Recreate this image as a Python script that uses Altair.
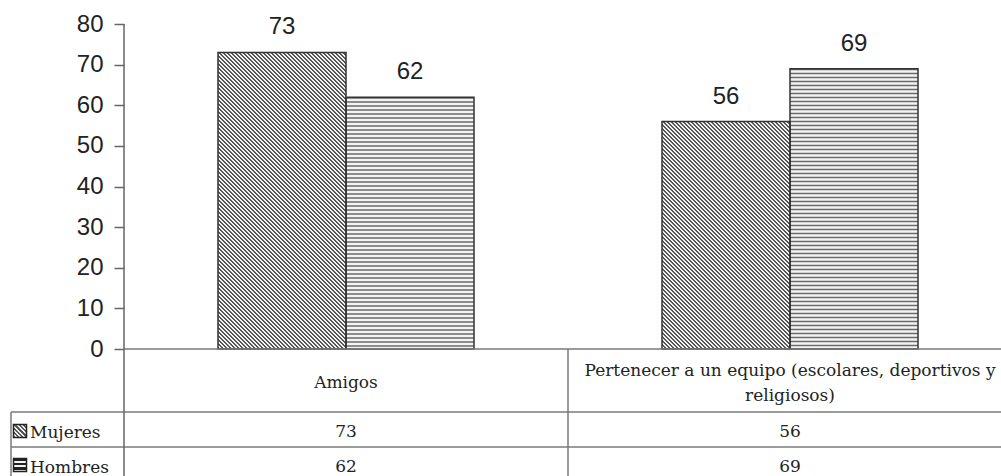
import textwrap

import altair as alt
import pandas as pd

# ---- data -------------------------------------------------------------
CATEGORIES = ["Amigos", "Pertenecer a un equipo (escolares, deportivos y religiosos)"]
SERIES = ["Mujeres", "Hombres"]
MUJERES = [73, 56]
HOMBRES = [62, 69]
Y_TICKS = [0, 10, 20, 30, 40, 50, 60, 70, 80]
Y_MAX = 80

# ---- layout (pixels) --------------------------------------------------
LEFT, TOP = 124, 24          # origin of the plot area on the canvas
VIEW_W, VIEW_H = 877, 452    # plot area plus the data table below it
PLOT_H = 325                 # height covered by the 0..80 value range
STEP = 444                   # width of one category column
PAD_INNER = 188 / STEP
PAD_OUTER = PAD_INNER / 2
BAR_W = STEP * (1 - PAD_INNER) / 2
HEADER_BOTTOM = 388          # table row boundaries (view coordinates)
ROW_LINE = 423
ROW_LEFT = -113
HEADER_Y = 359
HEADER_LH = 25
HATCH = 4.0                  # hatch period in pixels
UNIT = Y_MAX / PLOT_H        # value units per pixel

SANS = "Liberation Sans"
SERIF = "DejaVu Serif"
INK = "#222222"
LINE = "#7a7a7a"
AXIS = "#666666"
EDGE = "#333333"
HATCH_DARK = "#6a6a6a"
HATCH_LIGHT = "#f4f4f4"


def stripes(period_count, ink, dark, light):
    stops = []
    n = period_count
    for i in range(n):
        a, b, c = i / n, (i + ink) / n, (i + 1) / n
        stops += [
            {"offset": a, "color": dark},
            {"offset": b, "color": dark},
            {"offset": b, "color": light},
            {"offset": c, "color": light},
        ]
    return stops


def diagonal_fill(w, h, period=HATCH, ink=0.5, dark="#575757", light="#f2f2f2"):
    """Back-slash hatch drawn as a striped linear gradient at 45 degrees."""
    k = (w + h) / (w * w + h * h)
    n = max(1, round((w + h) / period))
    return {"gradient": "linear", "x1": 0, "y1": 1, "x2": w * k, "y2": 1 - h * k,
            "stops": stripes(n, ink, dark, light)}


def horizontal_fill(h, period=HATCH, ink=0.6, dark="#222222", light="#f4f4f4"):
    """Horizontal line hatch as a striped linear gradient (legend key)."""
    n = max(1, round(h / period))
    return {"gradient": "linear", "x1": 0, "y1": 0, "x2": 0, "y2": 1,
            "stops": stripes(n, ink, dark, light)}


rows = []
for cat, m, hv in zip(CATEGORIES, MUJERES, HOMBRES):
    rows.append({"cat": cat, "series": "Mujeres", "value": m})
    rows.append({"cat": cat, "series": "Hombres", "value": hv})
df = pd.DataFrame(rows)

# horizontal hatch lines of the "Hombres" bars, stepping down from each bar top
hatch_rows = []
for cat, hv in zip(CATEGORIES, HOMBRES):
    top = hv
    while top > 0:
        hatch_rows.append({"cat": cat, "series": "Hombres",
                           "hi": top, "lo": max(0.0, top - 1.5 * UNIT)})
        top -= HATCH * UNIT
hatch = pd.DataFrame(hatch_rows)

# ---- shared encodings ---------------------------------------------------
X_SCALE = alt.Scale(domain=CATEGORIES, range=[0, 2 * STEP],
                    paddingInner=PAD_INNER, paddingOuter=PAD_OUTER)
X_ENC = alt.X("cat:N", scale=X_SCALE, axis=None)
XO_ENC = alt.XOffset("series:N", scale=alt.Scale(domain=SERIES, paddingInner=0,
                                                 paddingOuter=0))
Y_SCALE = alt.Scale(domain=[0, Y_MAX], range=[PLOT_H, 0], nice=False, zero=True)
Y_AXIS = alt.Axis(values=Y_TICKS, tickSize=10, tickWidth=1.5, tickColor=AXIS,
                  labelFont=SANS, labelFontSize=24, labelColor=INK, labelPadding=11,
                  labelFlush=False, labelOverlap=False, domain=False, grid=False,
                  title=None)
Y_ENC = alt.Y("value:Q", stack=None, scale=Y_SCALE, axis=Y_AXIS)

base = alt.Chart(df)
one = alt.Chart(alt.Data(values=[{}]))

layers = []

# bar fills: diagonal hatch for Mujeres, light ground for Hombres
for cat, m, hv in zip(CATEGORIES, MUJERES, HOMBRES):
    for s, v in zip(SERIES, [m, hv]):
        if s == "Mujeres":
            fill = diagonal_fill(BAR_W, v / UNIT)
        else:
            fill = HATCH_LIGHT
        layers.append(
            base.transform_filter((alt.datum.cat == cat) & (alt.datum.series == s))
            .mark_bar(fill=fill, strokeWidth=0)
            .encode(x=X_ENC, xOffset=XO_ENC, y=Y_ENC)
        )

# horizontal hatch lines
layers.append(
    alt.Chart(hatch)
    .mark_bar(fill=HATCH_DARK, strokeWidth=0)
    .encode(x=X_ENC, xOffset=XO_ENC,
            y=alt.Y("hi:Q", stack=None, scale=Y_SCALE, axis=Y_AXIS),
            y2="lo:Q")
)

# bar outlines
layers.append(
    base.mark_bar(fillOpacity=0, stroke=EDGE, strokeWidth=1.5)
    .encode(x=X_ENC, xOffset=XO_ENC, y=Y_ENC)
)

# value labels above the bars
layers.append(
    base.mark_text(font=SANS, fontSize=24, color=INK, baseline="alphabetic", dy=-18)
    .encode(x=X_ENC, xOffset=XO_ENC, y=Y_ENC, text="value:Q")
)


# axis line and data-table grid
def hline(y, x0, x1, color=LINE, width=1.5):
    return one.mark_rule(color=color, strokeWidth=width).encode(
        x=alt.value(x0), x2=alt.value(x1), y=alt.value(y))


def vline(x, y0, y1, color=LINE, width=1.5):
    return one.mark_rule(color=color, strokeWidth=width).encode(
        x=alt.value(x), y=alt.value(y0), y2=alt.value(y1))


layers += [
    hline(PLOT_H, 0, VIEW_W),
    hline(HEADER_BOTTOM, ROW_LEFT, VIEW_W),
    hline(ROW_LINE, ROW_LEFT, VIEW_W),
    vline(STEP, PLOT_H, VIEW_H),
    vline(ROW_LEFT, HEADER_BOTTOM, VIEW_H),
    vline(0, 0, VIEW_H, color=AXIS),
]

# table header: category names, wrapped and centred in their row
for cat in CATEGORIES:
    lines = textwrap.wrap(cat, 48)
    layers.append(
        alt.Chart(alt.Data(values=[{"cat": cat, "lines": lines}]))
        .mark_text(font=SERIF, fontSize=17, color=INK, baseline="middle",
                   lineHeight=HEADER_LH)
        .encode(x=X_ENC,
                y=alt.value(HEADER_Y - (len(lines) - 1) * HEADER_LH / 2),
                text="lines:N")
    )

# table rows: legend key, series name and values
for s, key_y, text_y in zip(SERIES, [407, 441], [414, 448.5]):
    key_fill = diagonal_fill(13, 13, period=4.3) if s == "Mujeres" else horizontal_fill(13, period=4.3)
    layers.append(
        one.mark_square(size=169, fill=key_fill, stroke=INK, strokeWidth=1.5, opacity=1)
        .encode(x=alt.value(-104), y=alt.value(key_y))
    )
    layers.append(
        alt.Chart(alt.Data(values=[{"series": s}]))
        .mark_text(font=SERIF, fontSize=17, color=INK, align="left",
                   baseline="alphabetic")
        .encode(x=alt.value(-94), y=alt.value(text_y), text="series:N")
    )
    layers.append(
        base.transform_filter(alt.datum.series == s)
        .mark_text(font=SERIF, fontSize=17, color=INK, baseline="alphabetic")
        .encode(x=X_ENC, y=alt.value(text_y - 1), text="value:Q")
    )

chart = (
    alt.layer(*layers)
    .properties(width=VIEW_W, height=VIEW_H,
                padding={"left": LEFT, "top": TOP, "right": 0, "bottom": 0},
                autosize="none", background="white")
    .configure_view(stroke=None)
)

chart.save("out.html", embed_options={"renderer": "svg", "actions": False})
